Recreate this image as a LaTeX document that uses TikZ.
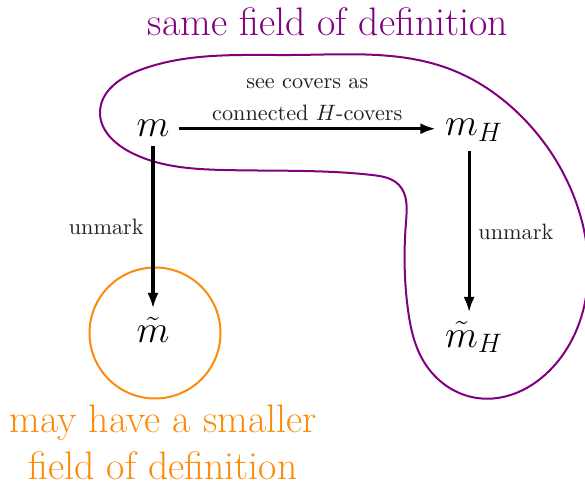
\documentclass[tikz,border=0pt]{standalone}
\usetikzlibrary{arrows.meta,calc,hobby}
\definecolor{fieldpurple}{RGB}{128,0,128}
\definecolor{fieldorange}{RGB}{250,140,10}
\begin{document}
\begin{tikzpicture}[x=0.45pt,y=-0.45pt,
  obj/.style={font=\LARGE,inner sep=4pt},
  mapto/.style={line width=1.4pt,-{Latex[length=7pt,width=5pt]}},
  lab/.style={font=\normalsize,text=black!87},
  big/.style={font=\fontsize{17.9}{21}\selectfont}]
\useasboundingbox (0,0) rectangle (585,484);
% purple region
\draw[fieldpurple,line width=0.9pt,use Hobby shortcut,closed=true]
 (293,55) .. (447,68) .. (523,118) .. (577,205) .. (587,290) .. (553,367)
 .. (477,398) .. (424,362) .. (408,310) .. (406,222) .. (399,185) .. (372,175)
 .. (223,170) .. (130,152) .. (100,112) .. (140,70) .. (293,55);
% orange circle
\draw[fieldorange,line width=0.9pt] (155,333) circle[radius=65.5];
% objects
\node[obj,anchor=base] (m) at (153,137) {$m$};
\node[obj,anchor=base] (mH) at (474,136) {$m_H$};
\node[obj,anchor=base] (mt) at (153,343) {$\tilde{m}$};
\node[obj,anchor=base] (mHt) at (474,347) {$\tilde{m}_H$};
% arrows
\draw[mapto] (m.east) -- (m.east -| mH.west)
  node[midway,above,lab,align=center,inner sep=3pt] (top) {see covers as\\[2.5pt] connected $H$-covers};
\draw[mapto] (m.south) -- (mt.north)
  node[midway,left,lab,inner sep=3.5pt] (ul) {unmark};
\draw[mapto] ([xshift=-2.2pt]mH.south) -- ([xshift=-2.2pt]mHt.north)
  node[midway,right,lab,inner sep=3.5pt] (ur) {unmark};
% titles
\node[big,text=fieldpurple,anchor=base] (title) at (328,36) {same field of definition};
\node[big,text=fieldorange,align=center,anchor=base,inner sep=1pt] (note) at (163,479) {may have a smaller\\ field of definition};
\end{tikzpicture}
\end{document}
